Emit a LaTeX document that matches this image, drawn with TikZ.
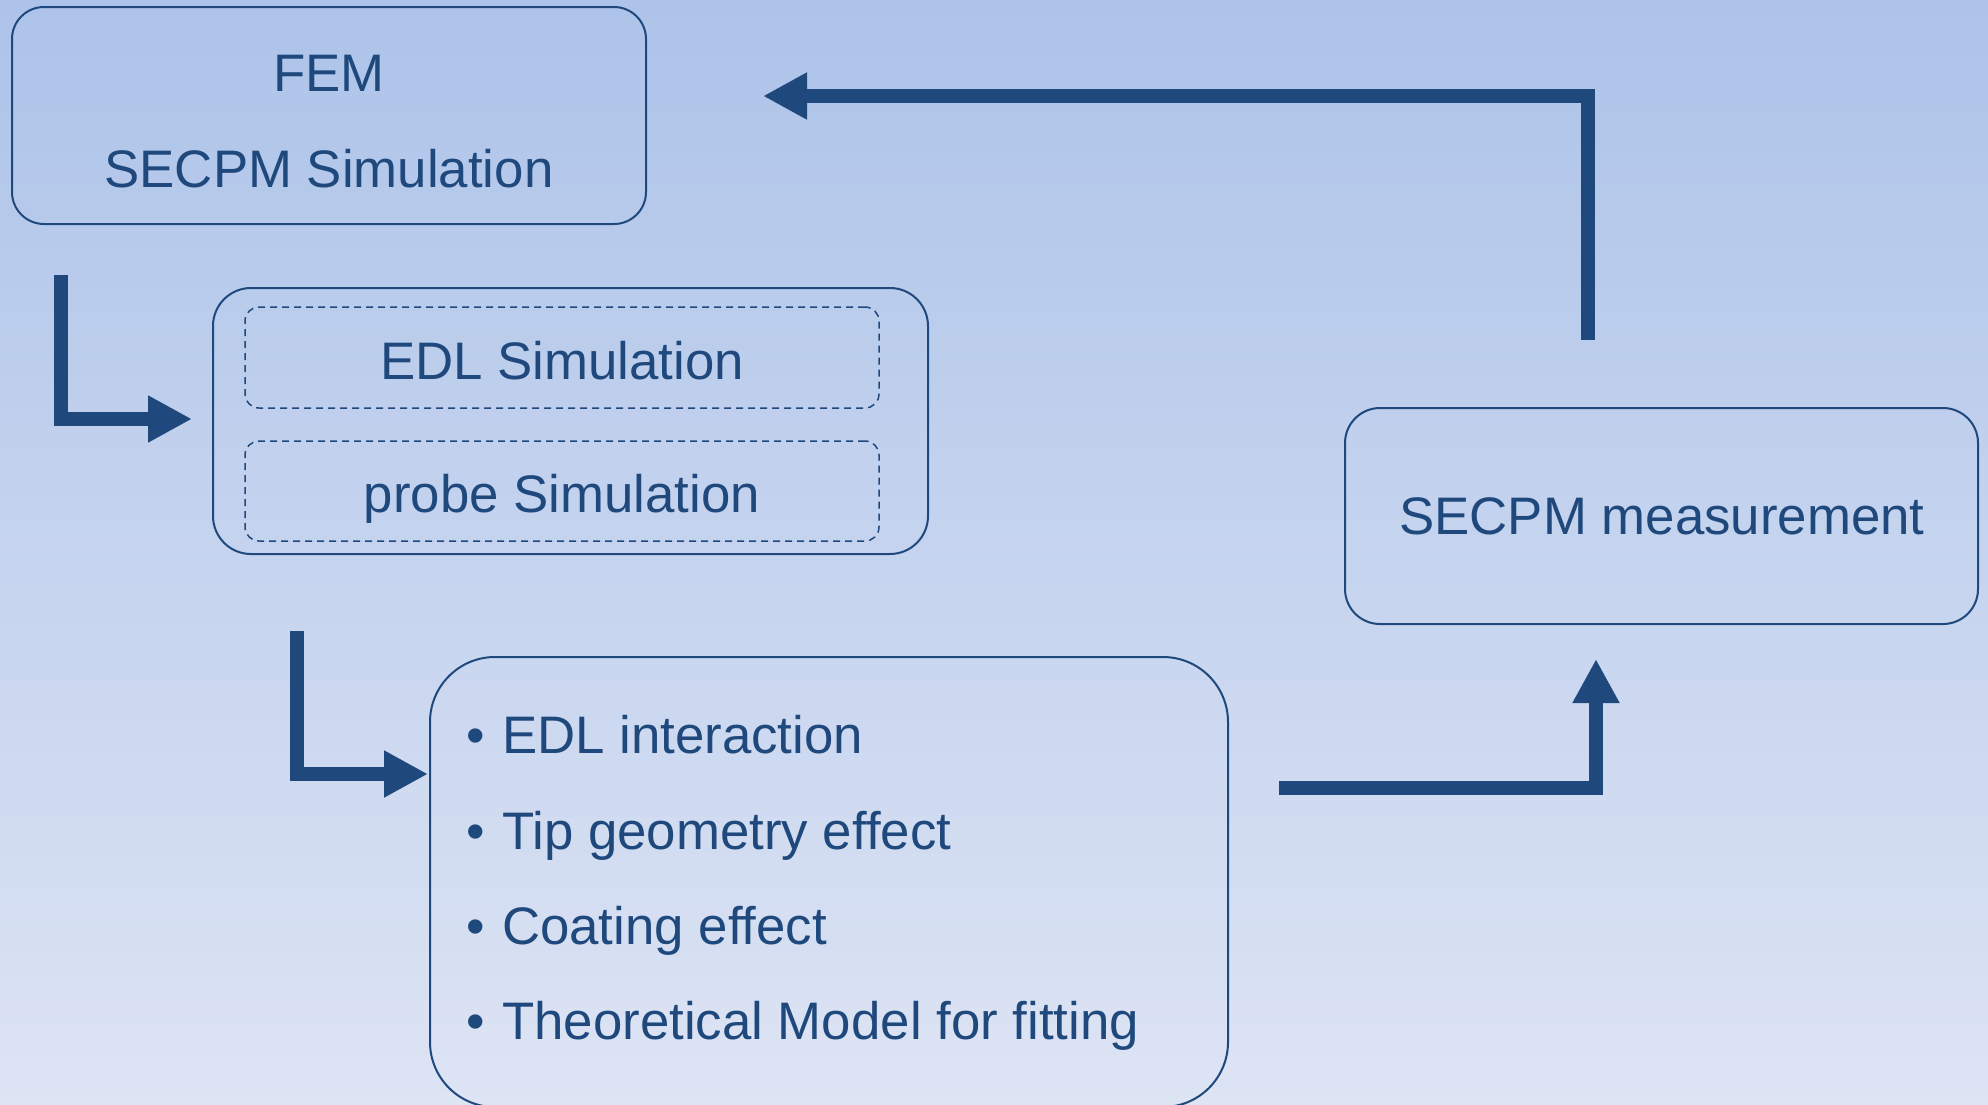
\documentclass[tikz,border=0pt]{standalone}
\usepackage{fontspec}
\setmainfont{Liberation Sans}
\usetikzlibrary{calc,arrows.meta}
\definecolor{ink}{RGB}{31,73,125}
\definecolor{bgtop}{RGB}{173,195,233}
\definecolor{bgbot}{RGB}{221,228,244}
\begin{document}
\begin{tikzpicture}[x=1pt,y=-1pt,
  box/.style={draw=ink,line width=2pt,rounded corners=#1,inner sep=0pt},
  dbox/.style={draw=ink,line width=1.5pt,dash pattern=on 7pt off 5pt,rounded corners=14pt,inner sep=0pt},
  txt/.style={text=ink,font=\fontsize{52.8}{60}\selectfont,inner sep=0pt},
  arr/.style={draw=ink,line width=14pt,line join=miter,-{Triangle[length=44pt,width=44pt]}}]
\useasboundingbox (0,0) rectangle (1988,1104);
\clip (0,0) rectangle (1988,1104);
\shade[top color=bgtop,bottom color=bgbot] (0,0) rectangle (1988,1104);
% boxes
\node[box=32pt,minimum width=634pt,minimum height=217pt] (fem) at (329,115.5) {};
\node[txt,anchor=base] (femt) at (329,91) {FEM};
\node[txt,anchor=base] (fems) at (329,187) {SECPM Simulation};
\node[box=38pt,minimum width=715pt,minimum height=266pt] (edl) at (570.5,421) {};
\node[dbox,minimum width=634pt,minimum height=101pt] (d1) at (562,357.5) {};
\node[txt,anchor=base] (d1t) at (562,379) {EDL Simulation};
\node[dbox,minimum width=634pt,minimum height=100pt] (d2) at (562,491) {};
\node[txt,anchor=base] (d2t) at (562,512) {probe Simulation};
\node[box=65pt,minimum width=798pt,minimum height=450pt] (bul) at (829,882) {};
\node[txt,anchor=base west] (b1) at (466,753) {\makebox[36pt][l]{•}EDL interaction};
\node[txt,anchor=base west] (b2) at (466,849) {\makebox[36pt][l]{•}Tip geometry effect};
\node[txt,anchor=base west] (b3) at (466,944) {\makebox[36pt][l]{•}Coating effect};
\node[txt,anchor=base west] (b4) at (466,1039) {\makebox[36pt][l]{•}Theoretical Model for fitting};
\node[box=35pt,minimum width=633pt,minimum height=216pt] (meas) at (1661.5,516) {};
\node[txt,anchor=base] (meast) at (1662,534) {SECPM measurement};
% connectors
\draw[arr] ($(fem.south west)+(50,50)$) |- ($(edl.west)+(-20,-2)$);
\draw[arr] ($(edl.south west)+(85,76)$) |- ($(bul.north west)+(-1,118)$);
\draw[arr] ($(bul.east)+(50,-94)$) -| ($(meas.south)+(-65.5,34)$);
\draw[arr] ($(meas.north)+(-73.5,-67)$) |- ($(fem.east)+(116,-19.5)$);
\end{tikzpicture}
\end{document}
